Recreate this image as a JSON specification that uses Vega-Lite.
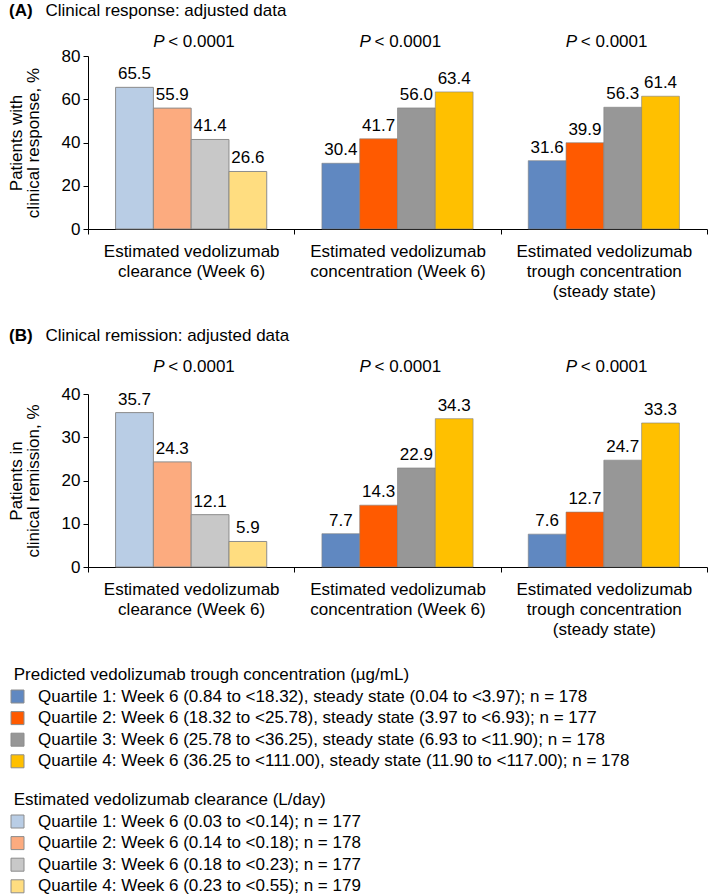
{
  "$schema": "https://vega.github.io/schema/vega-lite/v6.json",
  "padding": {"left": 7, "top": 1, "right": 0, "bottom": 0},
  "spacing": 165,
  "bounds": "flush",
  "config": {
    "font": "Liberation Sans",
    "view": {"stroke": null},
    "axis": {"domainColor": "#000", "tickColor": "#000", "labelColor": "#000", "titleColor": "#000", "labelFontSize": 17, "titleFontSize": 17, "titleFontWeight": "normal", "grid": false, "tickSize": 5, "domainWidth": 1, "tickWidth": 1},
    "axisY": {"labelPadding": 3, "titlePadding": 19, "titleLineHeight": 17},
    "axisX": {"tickBand": "extent", "labelAngle": 0, "labelPadding": 9, "labelLineHeight": 20, "labelLimit": 400},
    "legend": {"orient": "none", "direction": "vertical", "titleFontSize": 17, "titleFontWeight": "normal", "titleColor": "#000", "titleLimit": 1000, "labelFontSize": 17, "labelColor": "#000", "labelLimit": 1000, "symbolType": "square", "symbolSize": 169, "symbolStrokeColor": "#8c8c8c", "symbolStrokeWidth": 1, "symbolOpacity": 1, "rowPadding": 3.6, "titlePadding": 4, "labelOffset": 12, "padding": 0}
  },
  "datasets": {
    "bars": [
      {"panel": "A", "group": "clear", "q": 1, "value": 65.5, "series": "Quartile 1: Week 6 (0.03 to <0.14); n = 177"},
      {"panel": "A", "group": "clear", "q": 2, "value": 55.9, "series": "Quartile 2: Week 6 (0.14 to <0.18); n = 178"},
      {"panel": "A", "group": "clear", "q": 3, "value": 41.4, "series": "Quartile 3: Week 6 (0.18 to <0.23); n = 177"},
      {"panel": "A", "group": "clear", "q": 4, "value": 26.6, "series": "Quartile 4: Week 6 (0.23 to <0.55); n = 179"},
      {"panel": "A", "group": "conc", "q": 1, "value": 30.4, "series": "Quartile 1: Week 6 (0.84 to <18.32), steady state (0.04 to <3.97); n = 178"},
      {"panel": "A", "group": "conc", "q": 2, "value": 41.7, "series": "Quartile 2: Week 6 (18.32 to <25.78), steady state (3.97 to <6.93); n = 177"},
      {"panel": "A", "group": "conc", "q": 3, "value": 56.0, "series": "Quartile 3: Week 6 (25.78 to <36.25), steady state (6.93 to <11.90); n = 178"},
      {"panel": "A", "group": "conc", "q": 4, "value": 63.4, "series": "Quartile 4: Week 6 (36.25 to <111.00), steady state (11.90 to <117.00); n = 178"},
      {"panel": "A", "group": "trough", "q": 1, "value": 31.6, "series": "Quartile 1: Week 6 (0.84 to <18.32), steady state (0.04 to <3.97); n = 178"},
      {"panel": "A", "group": "trough", "q": 2, "value": 39.9, "series": "Quartile 2: Week 6 (18.32 to <25.78), steady state (3.97 to <6.93); n = 177"},
      {"panel": "A", "group": "trough", "q": 3, "value": 56.3, "series": "Quartile 3: Week 6 (25.78 to <36.25), steady state (6.93 to <11.90); n = 178"},
      {"panel": "A", "group": "trough", "q": 4, "value": 61.4, "series": "Quartile 4: Week 6 (36.25 to <111.00), steady state (11.90 to <117.00); n = 178"},
      {"panel": "B", "group": "clear", "q": 1, "value": 35.7, "series": "Quartile 1: Week 6 (0.03 to <0.14); n = 177"},
      {"panel": "B", "group": "clear", "q": 2, "value": 24.3, "series": "Quartile 2: Week 6 (0.14 to <0.18); n = 178"},
      {"panel": "B", "group": "clear", "q": 3, "value": 12.1, "series": "Quartile 3: Week 6 (0.18 to <0.23); n = 177"},
      {"panel": "B", "group": "clear", "q": 4, "value": 5.9, "series": "Quartile 4: Week 6 (0.23 to <0.55); n = 179"},
      {"panel": "B", "group": "conc", "q": 1, "value": 7.7, "series": "Quartile 1: Week 6 (0.84 to <18.32), steady state (0.04 to <3.97); n = 178"},
      {"panel": "B", "group": "conc", "q": 2, "value": 14.3, "series": "Quartile 2: Week 6 (18.32 to <25.78), steady state (3.97 to <6.93); n = 177"},
      {"panel": "B", "group": "conc", "q": 3, "value": 22.9, "series": "Quartile 3: Week 6 (25.78 to <36.25), steady state (6.93 to <11.90); n = 178"},
      {"panel": "B", "group": "conc", "q": 4, "value": 34.3, "series": "Quartile 4: Week 6 (36.25 to <111.00), steady state (11.90 to <117.00); n = 178"},
      {"panel": "B", "group": "trough", "q": 1, "value": 7.6, "series": "Quartile 1: Week 6 (0.84 to <18.32), steady state (0.04 to <3.97); n = 178"},
      {"panel": "B", "group": "trough", "q": 2, "value": 12.7, "series": "Quartile 2: Week 6 (18.32 to <25.78), steady state (3.97 to <6.93); n = 177"},
      {"panel": "B", "group": "trough", "q": 3, "value": 24.7, "series": "Quartile 3: Week 6 (25.78 to <36.25), steady state (6.93 to <11.90); n = 178"},
      {"panel": "B", "group": "trough", "q": 4, "value": 33.3, "series": "Quartile 4: Week 6 (36.25 to <111.00), steady state (11.90 to <117.00); n = 178"}
    ]
  },
  "vconcat": [
    {
      "width": 619, "height": 173,
      "title": {"text": "(A)", "subtitle": "\u200b\u00a0\u00a0\u00a0\u00a0\u00a0\u00a0\u00a0\u2009Clinical response: adjusted data", "anchor": "start", "frame": "group", "dx": -79, "fontSize": 17, "fontWeight": "bold", "color": "#000", "subtitleFontSize": 17, "subtitleFontWeight": "normal", "subtitleColor": "#000", "subtitlePadding": -17, "offset": 13},
      "data": {"name": "bars"},
      "transform": [{"filter": "datum.panel == 'A'"}],
      "encoding": {
        "x": {"field": "group", "type": "nominal", "title": null, "scale": {"domain": ["clear", "conc", "trough"], "paddingInner": 0, "paddingOuter": 0},
          "axis": {"labelExpr": "datum.value == 'clear' ? ['Estimated vedolizumab', 'clearance (Week 6)'] : datum.value == 'conc' ? ['Estimated vedolizumab', 'concentration (Week 6)'] : datum.value == 'trough' ? ['Estimated vedolizumab', 'trough concentration', '(steady state)'] : ''"}},
        "y": {"field": "value", "type": "quantitative", "scale": {"domain": [0, 80]}, "axis": {"values": [0, 20, 40, 60, 80], "title": ["Patients with", "clinical response, %"]}}
      },
      "layer": [
        {
          "transform": [{"filter": "datum.group == 'clear'"}],
          "mark": {"type": "bar", "stroke": "#8c8c8c", "strokeWidth": 1},
          "encoding": {
            "xOffset": {"field": "q", "type": "ordinal", "scale": {"paddingInner": 0, "paddingOuter": 0.73}},
            "fill": {"field": "series", "type": "nominal",
              "scale": {"domain": ["Quartile 1: Week 6 (0.03 to <0.14); n = 177", "Quartile 2: Week 6 (0.14 to <0.18); n = 178", "Quartile 3: Week 6 (0.18 to <0.23); n = 177", "Quartile 4: Week 6 (0.23 to <0.55); n = 179"], "range": ["#b9cde5", "#fcab7f", "#c8c8c8", "#ffdd80"]},
              "legend": {"title": "\u200b\u00a0Estimated vedolizumab clearance (L/day)", "legendX": -79, "legendY": 736}}
          }
        },
        {
          "transform": [{"filter": "datum.group != 'clear'"}],
          "mark": {"type": "bar", "stroke": "#7f7f7f", "strokeOpacity": 0.6, "strokeWidth": 1},
          "encoding": {
            "xOffset": {"field": "q", "type": "ordinal"},
            "color": {"field": "series", "type": "nominal",
              "scale": {"domain": ["Quartile 1: Week 6 (0.84 to <18.32), steady state (0.04 to <3.97); n = 178", "Quartile 2: Week 6 (18.32 to <25.78), steady state (3.97 to <6.93); n = 177", "Quartile 3: Week 6 (25.78 to <36.25), steady state (6.93 to <11.90); n = 178", "Quartile 4: Week 6 (36.25 to <111.00), steady state (11.90 to <117.00); n = 178"], "range": ["#6088c1", "#ff5a00", "#979797", "#ffc000"]},
              "legend": {"title": "\u200b\u00a0Predicted vedolizumab trough concentration (µg/mL)", "legendX": -79, "legendY": 611}}
          }
        },
        {
          "mark": {"type": "text", "baseline": "alphabetic", "dy": -8, "fontSize": 17, "color": "#000"},
          "encoding": {
            "xOffset": {"field": "q", "type": "ordinal"},
            "text": {"field": "value", "type": "quantitative", "format": ".1f"}
          }
        },
        {
          "transform": [{"filter": "datum.q == 1"}],
          "mark": {"type": "text", "text": "P", "fontStyle": "italic", "align": "left", "dx": -38, "baseline": "middle", "fontSize": 17, "color": "#000"},
          "encoding": {"y": {"datum": 86.5}}
        },
        {
          "transform": [{"filter": "datum.q == 1"}],
          "mark": {"type": "text", "text": "< 0.0001", "align": "left", "dx": -23, "baseline": "middle", "fontSize": 17, "color": "#000"},
          "encoding": {"y": {"datum": 86.5}}
        }
      ]
    },
    {
      "width": 619, "height": 173,
      "title": {"text": "(B)", "subtitle": "\u200b\u00a0\u00a0\u00a0\u00a0\u00a0\u00a0\u00a0\u2009Clinical remission: adjusted data", "anchor": "start", "frame": "group", "dx": -79, "fontSize": 17, "fontWeight": "bold", "color": "#000", "subtitleFontSize": 17, "subtitleFontWeight": "normal", "subtitleColor": "#000", "subtitlePadding": -17, "offset": 13},
      "data": {"name": "bars"},
      "transform": [{"filter": "datum.panel == 'B'"}],
      "encoding": {
        "x": {"field": "group", "type": "nominal", "title": null, "scale": {"domain": ["clear", "conc", "trough"], "paddingInner": 0, "paddingOuter": 0},
          "axis": {"labelExpr": "datum.value == 'clear' ? ['Estimated vedolizumab', 'clearance (Week 6)'] : datum.value == 'conc' ? ['Estimated vedolizumab', 'concentration (Week 6)'] : datum.value == 'trough' ? ['Estimated vedolizumab', 'trough concentration', '(steady state)'] : ''"}},
        "y": {"field": "value", "type": "quantitative", "scale": {"domain": [0, 40]}, "axis": {"values": [0, 10, 20, 30, 40], "title": ["Patients in", "clinical remission, %"]}}
      },
      "layer": [
        {
          "transform": [{"filter": "datum.group == 'clear'"}],
          "mark": {"type": "bar", "stroke": "#8c8c8c", "strokeWidth": 1},
          "encoding": {
            "xOffset": {"field": "q", "type": "ordinal", "scale": {"paddingInner": 0, "paddingOuter": 0.73}},
            "fill": {"field": "series", "type": "nominal",
              "scale": {"domain": ["Quartile 1: Week 6 (0.03 to <0.14); n = 177", "Quartile 2: Week 6 (0.14 to <0.18); n = 178", "Quartile 3: Week 6 (0.18 to <0.23); n = 177", "Quartile 4: Week 6 (0.23 to <0.55); n = 179"], "range": ["#b9cde5", "#fcab7f", "#c8c8c8", "#ffdd80"]},
              "legend": {"title": "\u200b\u00a0Estimated vedolizumab clearance (L/day)", "legendX": -79, "legendY": 736}}
          }
        },
        {
          "transform": [{"filter": "datum.group != 'clear'"}],
          "mark": {"type": "bar", "stroke": "#7f7f7f", "strokeOpacity": 0.6, "strokeWidth": 1},
          "encoding": {
            "xOffset": {"field": "q", "type": "ordinal"},
            "color": {"field": "series", "type": "nominal",
              "scale": {"domain": ["Quartile 1: Week 6 (0.84 to <18.32), steady state (0.04 to <3.97); n = 178", "Quartile 2: Week 6 (18.32 to <25.78), steady state (3.97 to <6.93); n = 177", "Quartile 3: Week 6 (25.78 to <36.25), steady state (6.93 to <11.90); n = 178", "Quartile 4: Week 6 (36.25 to <111.00), steady state (11.90 to <117.00); n = 178"], "range": ["#6088c1", "#ff5a00", "#979797", "#ffc000"]},
              "legend": {"title": "\u200b\u00a0Predicted vedolizumab trough concentration (µg/mL)", "legendX": -79, "legendY": 611}}
          }
        },
        {
          "mark": {"type": "text", "baseline": "alphabetic", "dy": -8, "fontSize": 17, "color": "#000"},
          "encoding": {
            "xOffset": {"field": "q", "type": "ordinal"},
            "text": {"field": "value", "type": "quantitative", "format": ".1f"}
          }
        },
        {
          "transform": [{"filter": "datum.q == 1"}],
          "mark": {"type": "text", "text": "P", "fontStyle": "italic", "align": "left", "dx": -38, "baseline": "middle", "fontSize": 17, "color": "#000"},
          "encoding": {"y": {"datum": 46.2}}
        },
        {
          "transform": [{"filter": "datum.q == 1"}],
          "mark": {"type": "text", "text": "< 0.0001", "align": "left", "dx": -23, "baseline": "middle", "fontSize": 17, "color": "#000"},
          "encoding": {"y": {"datum": 46.2}}
        }
      ]
    }
  ]
}
